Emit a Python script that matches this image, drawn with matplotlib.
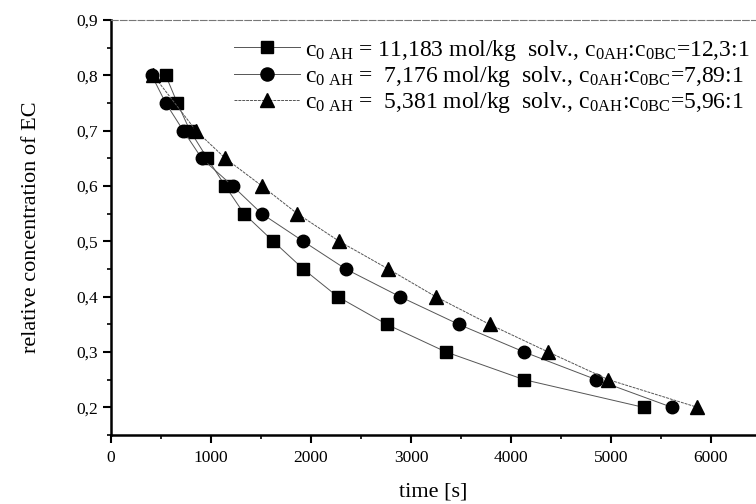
import matplotlib
matplotlib.use('Agg')
import matplotlib.pyplot as plt
from matplotlib.ticker import MultipleLocator, FuncFormatter

plt.rcParams['font.family'] = 'Liberation Serif'
plt.rcParams['mathtext.fontset'] = 'custom'
plt.rcParams['mathtext.rm'] = 'Liberation Serif'
plt.rcParams['mathtext.it'] = 'Liberation Serif'

# relative concentration levels
conc = [0.8, 0.75, 0.7, 0.65, 0.6, 0.55, 0.5, 0.45, 0.4, 0.35, 0.3, 0.25, 0.2]
conc_tri = [0.8, 0.7, 0.65, 0.6, 0.55, 0.5, 0.45, 0.4, 0.35, 0.3, 0.25, 0.2]

# times [s]
t_sq = [547, 663, 790, 963, 1143, 1330, 1623, 1923, 2267, 2757, 3351, 4131, 5325]
t_ci = [407, 547, 723, 907, 1217, 1507, 1923, 2347, 2890, 3477, 4131, 4853, 5609]
t_tr = [424, 850, 1143, 1510, 1863, 2283, 2773, 3247, 3785, 4372, 4974, 5864]

labels = [
    r'c$_{\mathrm{0\ AH}}$ = 11,183 mol/kg  solv., c$_{\mathrm{0AH}}$:c$_{\mathrm{0BC}}$=12,3:1',
    r'c$_{\mathrm{0\ AH}}$ =  7,176 mol/kg  solv., c$_{\mathrm{0AH}}$:c$_{\mathrm{0BC}}$=7,89:1',
    r'c$_{\mathrm{0\ AH}}$ =  5,381 mol/kg  solv., c$_{\mathrm{0AH}}$:c$_{\mathrm{0BC}}$=5,96:1',
]

fig = plt.figure(figsize=(7.56, 5.04), dpi=100)
ax = fig.add_axes([111/756, 69/504, 645/756, 415/504])

ax.plot(t_sq, conc, marker='s', ms=8, lw=0.7, ls='-', label=labels[0])
ax.plot(t_ci, conc, marker='o', ms=9, lw=0.7, ls='-', label=labels[1])
ax.plot(t_tr, conc_tri, marker='^', ms=9.5, lw=0.7, ls=(0, (3, 1)), label=labels[2])
for l in ax.lines:
    l.set_color('#555555')
    l.set_markerfacecolor('black')
    l.set_markeredgecolor('black')

ax.set_xlim(0, 6450)
ax.set_ylim(0.15, 0.9)
ax.xaxis.set_major_locator(MultipleLocator(1000))
ax.xaxis.set_minor_locator(MultipleLocator(500))
ax.yaxis.set_major_locator(MultipleLocator(0.1))
ax.yaxis.set_minor_locator(MultipleLocator(0.05))
ax.yaxis.set_major_formatter(FuncFormatter(lambda v, p: ('%.1f' % v).replace('.', ',')))

ax.tick_params(which='major', direction='out', length=6, width=1.5, labelsize=12.5)
ax.tick_params(which='minor', direction='out', length=3, width=1.2)
ax.tick_params(axis='x', pad=5)

ax.spines['right'].set_visible(False)
ax.spines['left'].set_linewidth(1.8)
ax.spines['bottom'].set_linewidth(1.8)
ax.spines['top'].set_linestyle((0, (6, 2)))
ax.spines['top'].set_linewidth(0.8)
ax.spines['top'].set_color('#777777')

ax.set_xlabel('time [s]', fontsize=16, labelpad=12)
ax.set_ylabel('relative concentration of EC', fontsize=16, labelpad=25)

ax.legend(loc='upper right', frameon=False, fontsize=17, numpoints=1,
          handlelength=2.8, handletextpad=0.2, labelspacing=0.05,
          borderaxespad=0.0, bbox_to_anchor=(1.005, 0.98), markerscale=1.05)

fig.savefig('out.png', dpi=100)
